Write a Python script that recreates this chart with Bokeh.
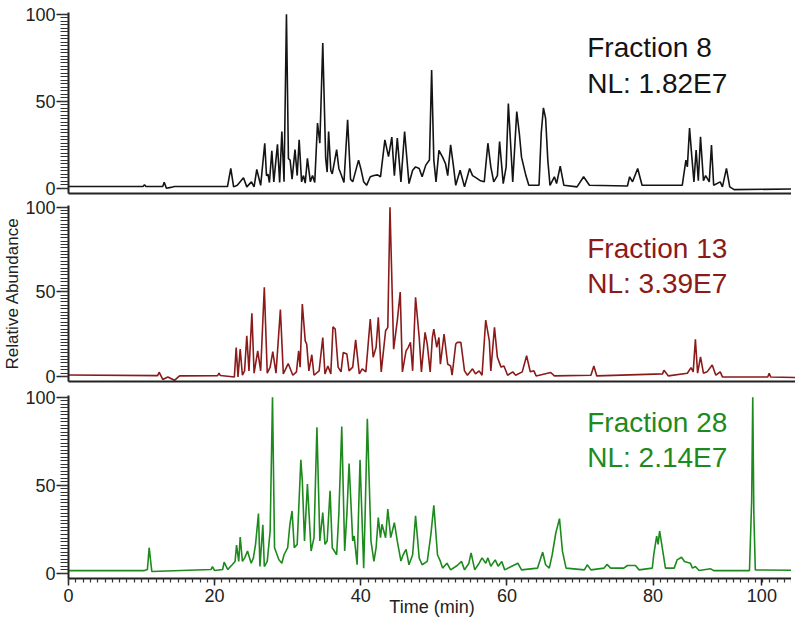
from bokeh.plotting import figure
from bokeh.layouts import column
from bokeh.models import FixedTicker, Label, Range1d
from bokeh.embed import file_html
from bokeh.resources import INLINE

FONT = "Liberation Sans"

# ---------------- data ----------------
f8_time = [0, 10.2, 10.4, 10.6, 12.9, 13.1, 13.4, 14.0, 14.5, 21.76, 22.21, 22.6, 23.1, 23.95, 24.4, 25.04, 25.4, 25.77, 26.3,
           26.86, 27.1, 27.3, 27.5, 27.83, 28.1, 28.6, 28.9, 29.2, 29.5, 29.83, 30.1, 30.33, 30.6, 31.0, 31.3, 31.57, 31.9,
           32.16, 32.4, 32.7, 33.1, 33.4, 33.7, 34.08, 34.4, 34.8, 35.2, 35.4, 35.6, 35.9, 36.1, 36.7, 37.0, 37.3, 37.7,
           38.2, 38.6, 38.9, 39.7, 40.0, 40.4, 40.8, 41.3, 41.8, 42.3, 42.7, 43.3, 43.8, 44.25, 44.6, 45.0, 45.5, 46.0,
           46.6, 47.1, 47.5, 48.0, 48.4, 48.9, 49.4, 49.7, 50.0, 50.3, 50.7, 51.2, 51.6, 51.9, 52.3, 52.7, 53.0, 53.6,
           54.2, 54.9, 55.3, 55.7, 56.4, 56.9, 57.4, 57.8, 58.2, 58.7, 59.0, 59.5, 59.9, 60.2, 60.8, 61.35, 61.7, 62.0,
           62.6, 63.0, 64.4, 64.7, 65.0, 65.3, 65.6, 65.9, 66.5, 66.8, 67.3, 67.8, 69.6, 70.5, 71.3, 76.5, 76.8, 77.2,
           77.9, 78.5, 84.0, 84.5, 84.7, 85.0, 85.3, 85.6, 85.9, 86.2, 86.5, 86.9, 87.2, 87.7, 88.0, 88.3, 89.2, 89.5,
           90.05, 90.5, 91.1, 99.0, 99.2, 99.5]
f8_abund = [1, 1, 2, 1, 1, 3.5, 0, 0.5, 1, 1, 11.4, 0.8, 1.7, 6.0, 0.8, 3.7, 0.8, 10.8, 1.7,
            25.9, 7.2, 8.1, 3.3, 21.6, 3.7, 25.3, 3.3, 32.6, 3.7, 100, 17.0, 16.2, 5.2, 22.2, 7.3, 27.8, 3.7,
            7.3, 3.0, 17.2, 3.7, 7.3, 3.3, 37.5, 25.9, 83.5, 17.0, 9.3, 32.6, 10.3, 8.3, 22.2, 11.4, 8.1, 3.3,
            39.4, 5.2, 3.7, 16.2, 11.4, 3.7, 1.7, 6.6, 7.3, 7.7, 6.6, 27.8, 18.2, 29.4, 7.3, 28.8, 3.7, 32.6,
            2.7, 10.4, 12.3, 11.4, 6.6, 13.3, 16.2, 68.0, 16.2, 3.7, 21.8, 17.9, 14.1, 7.3, 24.9, 12.3, 1.7, 10.4,
            0.8, 11.4, 7.3, 6.3, 4.3, 3.7, 25.9, 12.3, 3.7, 7.3, 26.8, 2.7, 12.3, 48.7, 3.7, 44.1, 31.6, 17.9,
            7.3, 1.7, 1.7, 31.6, 46.2, 40.2, 16.2, 1.7, 6.6, 2.7, 12.7, 1.7, 0.8, 6.6, 1.7, 1.3, 6.6, 3.7,
            11.4, 1.7, 1.7, 16.2, 12.3, 34.6, 18.6, 3.7, 22.0, 4.3, 29.6, 4.3, 7.3, 3.7, 24.9, 1.7, 3.7, 0.8,
            11.4, 0.8, -0.8, -0.4, 2.5, -0.3]

f13_time = [0, 12.2, 12.4, 12.9, 13.6, 14.5, 15.2, 20.4, 20.6, 20.8, 22.7, 22.95, 23.2, 23.5, 23.8, 24.1, 24.4, 24.7,
            25.1, 25.4, 25.9, 26.3, 26.8, 27.2, 27.6, 27.96, 28.4, 29.0, 29.4, 30.07, 30.7, 31.2, 31.5, 31.7, 32.0,
            32.4, 32.6, 32.9, 33.3, 33.6, 34.3, 34.8, 35.1, 35.5, 35.9, 36.2, 36.5, 36.9, 37.3, 37.6, 38.1, 38.4,
            38.9, 39.3, 39.8, 40.2, 40.7, 41.3, 41.7, 42.1, 42.4, 42.8, 43.4, 43.7, 44.0, 44.5, 45.0, 45.4, 45.7,
            46.2, 46.5, 46.8, 47.1, 47.5, 48.0, 48.3, 48.8, 49.1, 49.5, 49.8, 50.0, 50.4, 50.7, 50.9, 51.4, 51.9,
            52.3, 52.5, 53.0, 53.2, 53.7, 54.2, 54.6, 55.3, 55.7, 56.2, 56.6, 57.1, 57.6, 57.8, 58.3, 58.7, 59.2,
            59.6, 60.1, 60.8, 61.2, 62.1, 62.7, 63.2, 63.7, 64.0, 66.0, 66.5, 71.5, 71.9, 72.3, 81.3, 81.5, 82.1,
            84.7, 85.2, 85.5, 85.8, 86.1, 86.5, 86.9, 87.4, 88.1, 88.6, 89.2, 89.5, 95.7, 95.9, 96.1, 99.5]
f13_abund = [0.8, 0.5, 2.5, -1.8, -0.3, -2.3, 0.3, 0.5, 1.9, 0.5, -0.3, 17.1, -0.3, 16.1, 0.7, 3.3, 24.0, 3.3,
             37.3, 1.9, 15.1, 3.3, 52.7, 1.9, 5.5, 14.7, 1.9, 39.5, 1.5, 7.6, 0.7, 2.7, 15.1, 5.5, 42.8,
             21.0, 19.1, 3.3, 12.8, 0.7, 3.3, 23.0, 1.5, 6.2, 1.5, 29.4, 28.0, 5.5, 2.7, 14.1, 13.2, 3.3,
             5.5, 21.6, 1.5, 4.5, 2.7, 33.9, 11.3, 17.2, 34.9, 2.7, 27.0, 29.0, 100, 16.1, 33.0, 49.8, 2.7,
             15.1, 17.2, 20.1, 3.3, 46.8, 23.0, 2.7, 26.0, 19.1, 2.7, 23.0, 28.0, 17.2, 23.0, 7.2, 25.0, 7.2,
             6.2, 0.7, 19.1, 20.1, 20.1, 3.3, 0.7, 4.5, 1.5, 3.3, 0.7, 33.3, 21.0, 3.3, 29.0, 11.3, 5.5,
             6.2, 0.7, 2.7, 0.7, 2.7, 12.2, 2.7, 3.3, 0.3, 2.3, 0.3, 0.7, 6.2, 0.3, 1.5, 3.6, 0.3,
             1.9, 5.2, 2.7, 22.0, 1.9, 11.6, 1.9, 2.7, 6.8, 0.7, 2.7, -0.3, -0.3, 1.9, -0.3, -0.6]

f28_time = [0, 10.4, 10.8, 11.04, 11.4, 19.5, 19.7, 20.0, 21.1, 21.3, 21.8, 22.2, 22.4, 22.8, 23.0, 23.3, 23.5, 23.8,
            24.1, 24.5, 25.0, 25.3, 25.6, 26.0, 26.2, 26.6, 26.8, 27.2, 27.6, 27.92, 28.2, 28.8, 29.2, 29.5, 30.0,
            30.3, 30.6, 30.9, 31.3, 31.8, 32.0, 32.3, 32.7, 33.2, 33.6, 34.0, 34.4, 34.8, 35.1, 35.4, 35.8, 36.1,
            36.7, 37.0, 37.4, 37.8, 38.1, 38.4, 38.9, 39.1, 39.5, 39.9, 40.4, 40.6, 40.9, 41.4, 41.8, 42.1, 42.4,
            42.7, 42.9, 43.4, 43.7, 44.1, 44.6, 45.0, 45.5, 45.8, 46.2, 46.6, 47.1, 47.5, 48.0, 48.4, 49.1, 49.6,
            50.0, 50.5, 50.9, 51.2, 51.8, 52.3, 53.2, 53.8, 54.2, 54.8, 55.1, 55.6, 56.2, 56.6, 57.1, 57.4, 57.8,
            58.4, 58.8, 59.3, 59.7, 61.5, 62.0, 64.2, 64.9, 65.3, 65.8, 66.2, 66.7, 67.2, 67.6, 68.1, 70.6, 71.0,
            71.5, 73.3, 73.7, 74.2, 76.0, 76.5, 77.6, 78.1, 79.9, 80.1, 80.5, 80.7, 80.9, 81.3, 81.7, 82.9, 83.3,
            83.9, 84.3, 85.1, 85.4, 85.8, 86.3, 87.9, 88.3, 93.2, 93.5, 93.65, 93.8, 94.0, 99.5]
f28_abund = [1.5, 1.5, 2.1, 14.5, 1.0, 2.1, 3.8, 1.5, 2.1, 6.3, 2.1, 4.0, 4.8, 6.7, 16.0, 6.7, 20.6, 6.7,
             8.6, 12.6, 5.7, 8.6, 16.4, 33.9, 3.8, 27.5, 3.8, 6.7, 24.0, 100, 14.5, 7.6, 5.7, 10.5, 14.5,
             27.8, 35.4, 14.5, 16.4, 64.4, 52.6, 18.3, 50.7, 12.6, 20.2, 83.0, 18.3, 34.5, 16.4, 18.3, 46.8, 14.5,
             10.5, 33.6, 83.4, 12.6, 33.6, 62.4, 18.3, 21.1, 4.8, 64.4, 2.9, 33.6, 87.8, 18.3, 6.7, 14.5, 31.6,
             20.2, 27.8, 20.2, 36.4, 20.2, 28.7, 18.3, 6.9, 10.5, 13.5, 4.8, 10.5, 32.6, 8.6, 4.8, 6.7, 22.1,
             38.6, 10.5, 6.7, 2.9, 5.7, 1.9, 4.4, 6.7, 1.9, 5.7, 11.6, 1.9, 5.7, 8.7, 5.7, 8.7, 4.0,
             7.6, 4.0, 6.7, 1.9, 5.7, 1.9, 2.9, 12.0, 4.8, 2.9, 10.5, 23.0, 31.0, 12.6, 2.9, 1.9, 4.8,
             1.9, 2.9, 5.0, 2.9, 2.9, 4.4, 4.4, 1.9, 2.9, 10.5, 21.1, 16.4, 24.0, 13.5, 2.9, 2.9, 7.6,
             9.1, 6.7, 5.7, 2.9, 3.8, 1.5, 2.5, 1.5, 1.5, 41.1, 100, 33.5, 1.9, 1.7]

fraction_names = ["Fraction 8", "Fraction 13", "Fraction 28"]
nl_values = ["NL: 1.82E7", "NL: 3.39E7", "NL: 2.14E7"]
x_ticks = [0, 20, 40, 60, 80, 94.9]
x_tick_labels = ["0", "20", "40", "60", "80", "100"]
y_ticks = [0, 50, 100]
y_minor = list(range(0, 101, 2))
x_minor = list(range(0, 100))

colors = ["#141414", "#8b1a1a", "#1e8a1e"]
label_y = [(80.9, 60.1), (75.7, 54.9), (85.7, 65.7)]
frame_heights = [181, 176, 183]
border_top = [12, 6, 6]
border_bottom = [6, 8, 0]

series = [(f8_time, f8_abund), (f13_time, f13_abund), (f28_time, f28_abund)]

x_range = Range1d(0, 99.5)
panels = []
for i, ((t, a), name, nl, col, (ly1, ly2)) in enumerate(zip(series, fraction_names, nl_values, colors, label_y)):
    last = i == 2
    p = figure(frame_width=727, frame_height=frame_heights[i], x_range=x_range, y_range=Range1d(-3, 101),
               output_backend="svg", toolbar_location=None,
               min_border_left=64, min_border_right=0, min_border_top=border_top[i],
               min_border_bottom=border_bottom[i])
    p.line(t, a, line_color=col, line_width=1.6)
    p.grid.visible = False
    p.outline_line_color = None
    p.background_fill_color = "white"

    ya = p.yaxis[0]
    ya.ticker = FixedTicker(ticks=y_ticks, minor_ticks=y_minor)
    ya.major_tick_out = 12
    ya.major_tick_in = 0
    ya.minor_tick_out = 8
    ya.minor_tick_in = 0
    ya.axis_line_width = 2
    ya.axis_line_color = "#222222"
    ya.major_tick_line_width = 1.5
    ya.minor_tick_line_width = 1.2
    ya.major_tick_line_color = "#222222"
    ya.minor_tick_line_color = "#333333"
    ya.major_label_text_font = FONT
    ya.major_label_text_font_size = "18px"
    ya.major_label_text_color = "#222222"
    ya.major_label_standoff = 1
    if i == 1:
        ya.axis_label = "Relative Abundance"
        ya.axis_label_text_font = FONT
        ya.axis_label_text_font_size = "17px"
        ya.axis_label_text_font_style = "normal"
        ya.axis_label_text_color = "#222222"
        ya.axis_label_standoff = 0

    xa = p.xaxis[0]
    xa.axis_line_width = 2
    xa.axis_line_color = "#222222"
    if last:
        xa.ticker = FixedTicker(ticks=x_ticks, minor_ticks=x_minor)
        xa.major_label_overrides = dict(zip(x_ticks, x_tick_labels))
        xa.major_tick_out = 7
        xa.major_tick_in = 0
        xa.minor_tick_out = 4
        xa.minor_tick_in = 0
        xa.major_tick_line_width = 1.5
        xa.minor_tick_line_width = 1.2
        xa.major_tick_line_color = "#222222"
        xa.minor_tick_line_color = "#333333"
        xa.major_label_text_font = FONT
        xa.major_label_text_font_size = "18px"
        xa.major_label_text_color = "#222222"
        xa.major_label_standoff = 3
        xa.axis_label = "Time (min)"
        xa.axis_label_text_font = FONT
        xa.axis_label_text_font_size = "18px"
        xa.axis_label_text_font_style = "normal"
        xa.axis_label_text_color = "#222222"
        xa.axis_label_standoff = -8
    else:
        xa.ticker = FixedTicker(ticks=[])
        xa.major_tick_out = 0
        xa.major_tick_in = 0
        xa.minor_tick_out = 0
        xa.minor_tick_in = 0
        xa.major_label_standoff = 0

    for txt, yy in ((name, ly1), (nl, ly2)):
        p.add_layout(Label(x=71.0, y=yy, text=txt, text_color=col, text_font=FONT,
                           text_font_size="28px", text_baseline="middle"))
    panels.append(p)

layout = column(*panels, spacing=0)
open("out.html", "w").write(file_html(layout, INLINE))
